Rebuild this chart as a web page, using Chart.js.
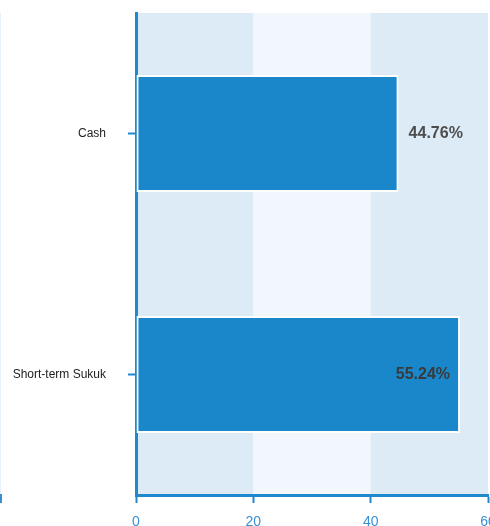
<!DOCTYPE html>
<html>
<head>
<meta charset="utf-8">
<script src="https://cdn.jsdelivr.net/npm/chart.js@4/dist/chart.umd.min.js"></script>
<style>
  html, body { margin: 0; padding: 0; background: #fff; overflow: hidden; }
  #wrap { position: relative; width: 530px; height: 526px; }
  /* edge of the neighbouring panel */
  .edge { position: absolute; left: 0; top: 13px; width: 1px; height: 482px; background: #e8f1f9; }
  .edge-tick { position: absolute; left: 0; top: 494px; width: 2px; height: 9px; background: #3a8fd0; }
</style>
</head>
<body>
<div id="wrap">
  <canvas id="chart"></canvas>
  <div class="edge"></div>
  <div class="edge-tick"></div>
</div>
<script>
'use strict';

// ── Data ─────────────────────────────────────────────
const categories = ['Cash', 'Short-term Sukuk'];
const shares     = [44.76, 55.24];
const xTicks     = [0, 20, 40, 60];

const AXIS_BLUE = '#1f89cd';
const BAR_BLUE  = '#1a87ca';
const BANDS     = ['#dcebf6', '#f1f7fc'];

// alternating vertical bands between x ticks
const bandPlugin = {
  id: 'bands',
  beforeDraw(chart) {
    const { ctx, chartArea: a, scales: { x } } = chart;
    ctx.save();
    for (let i = 0; i < xTicks.length - 1; i++) {
      const x0 = x.getPixelForValue(xTicks[i]);
      const x1 = x.getPixelForValue(xTicks[i + 1]);
      ctx.fillStyle = BANDS[i % 2];
      ctx.fillRect(x0, a.top, x1 - x0, a.bottom - a.top);
    }
    ctx.restore();
  },
};

// percentage labels: outside the bar end when there is room, else inside
const valueLabels = {
  id: 'valueLabels',
  afterDatasetsDraw(chart) {
    const { ctx, chartArea: a } = chart;
    const meta = chart.getDatasetMeta(0);
    ctx.save();
    ctx.font = 'bold 16px "Liberation Sans", Arial, sans-serif';
    ctx.textBaseline = 'middle';
    meta.data.forEach((bar, i) => {
      const text = shares[i].toFixed(2) + '%';
      const w = ctx.measureText(text).width;
      if (bar.x + 10 + w <= a.right) {
        ctx.fillStyle = '#4d4d4d';
        ctx.textAlign = 'left';
        ctx.fillText(text, bar.x + 10, bar.y);
      } else {
        ctx.fillStyle = '#3a3a3a';
        ctx.textAlign = 'right';
        ctx.fillText(text, bar.x - 10, bar.y);
      }
    });
    ctx.restore();
  },
};

// fixed axis sizes, no automatic label padding
function fixSize(prop, size) {
  return (s) => {
    s[prop] = size;
    s.paddingTop = s.paddingBottom = s.paddingLeft = s.paddingRight = 0;
  };
}

new Chart(document.getElementById('chart'), {
  type: 'bar',
  data: {
    labels: categories,
    datasets: [{
      data: shares,
      backgroundColor: BAR_BLUE,
      borderColor: '#ffffff',
      borderWidth: 2,
      borderSkipped: false,
      barPercentage: 0.97,
      categoryPercentage: 0.5,
    }],
  },
  options: {
    indexAxis: 'y',
    responsive: true,
    maintainAspectRatio: false,
    animation: false,
    layout: { autoPadding: false, padding: { top: 13, right: 42, left: 0, bottom: 0 } },
    plugins: {
      legend: { display: false },
      tooltip: { enabled: false },
    },
    scales: {
      x: {
        min: 0,
        max: 60,
        afterFit: fixSize('height', 31),
        afterBuildTicks: (s) => { s.ticks = xTicks.map(v => ({ value: v })); },
        border: { display: true, color: AXIS_BLUE, width: 3 },
        grid: { drawOnChartArea: false, drawTicks: true, tickLength: 8, tickWidth: 2, color: AXIS_BLUE },
        ticks: {
          padding: 11,
          color: '#3a8fd4',
          font: { family: '"Liberation Sans", Arial, sans-serif', size: 14 },
        },
      },
      y: {
        afterFit: fixSize('width', 136),
        border: { display: true, color: AXIS_BLUE, width: 3 },
        grid: { offset: false, drawOnChartArea: false, drawTicks: true, tickLength: 8, tickWidth: 2, color: AXIS_BLUE },
        ticks: {
          padding: 22,
          color: '#222222',
          font: { family: '"Liberation Sans", Arial, sans-serif', size: 12 },
        },
      },
    },
  },
  plugins: [bandPlugin, valueLabels],
});
</script>
</body>
</html>
